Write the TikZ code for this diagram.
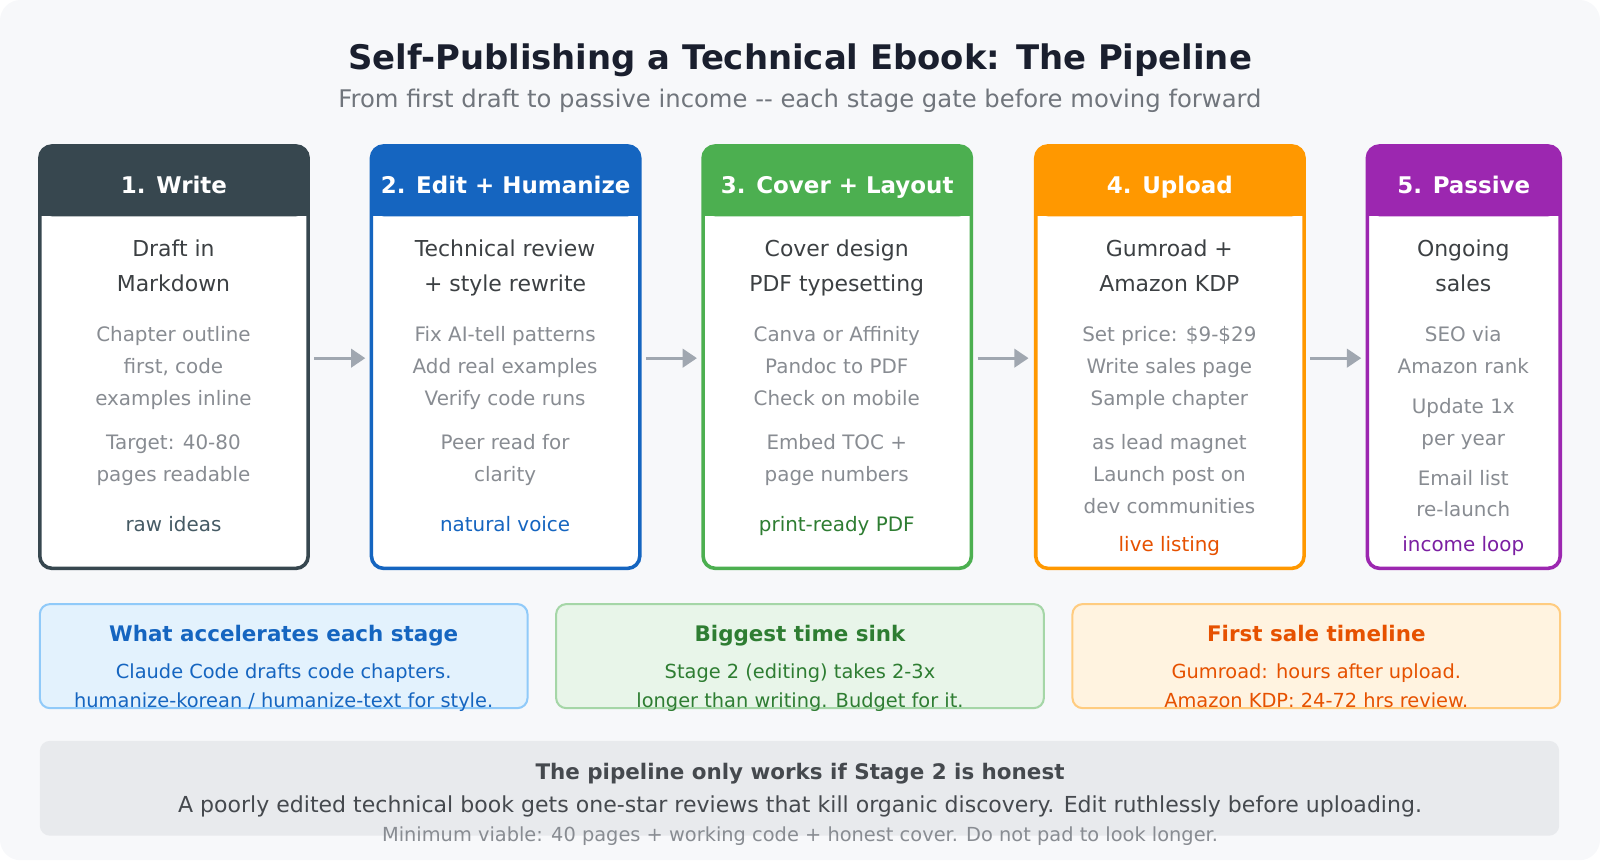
\documentclass[tikz,border=0pt]{standalone}
\usepackage{fontspec}
\setmainfont{DejaVu Sans}
\usetikzlibrary{arrows.meta}
\definecolor{bg}{HTML}{F7F8FA}
\definecolor{cA}{HTML}{37474F}\definecolor{cB}{HTML}{1565C0}\definecolor{cC}{HTML}{4CAF50}
\definecolor{cD}{HTML}{FF9800}\definecolor{cE}{HTML}{9C27B0}
\definecolor{lA}{HTML}{455A64}\definecolor{lB}{HTML}{1565C0}\definecolor{lC}{HTML}{2E7D32}
\definecolor{lD}{HTML}{E65100}\definecolor{lE}{HTML}{7B1FA2}
\definecolor{txt}{HTML}{3C4043}\definecolor{det}{HTML}{888C92}\definecolor{arr}{HTML}{A0A7B0}
\definecolor{ttl}{HTML}{1A1F2E}\definecolor{subc}{HTML}{70757C}
\definecolor{fB}{HTML}{E3F2FD}\definecolor{dB}{HTML}{90CAF9}
\definecolor{fC}{HTML}{E8F5E9}\definecolor{dC}{HTML}{A5D6A7}
\definecolor{fD}{HTML}{FFF3E0}\definecolor{dD}{HTML}{FFCC80}
\definecolor{foot}{HTML}{E8EAED}\definecolor{ftx}{HTML}{45494E}
\begin{document}
\begin{tikzpicture}[x=1pt,y=-1pt,
 every node/.style={text height=0.75em,text depth=0.22em,inner sep=0pt,yshift=-6pt},
 main/.style={font=\fontsize{21.5}{26}\selectfont,text=txt},
 det/.style={font=\fontsize{19.5}{24}\selectfont,text=det},
 hd/.style={font=\fontsize{22.5}{27}\selectfont\bfseries,text=white},
 lab/.style={font=\fontsize{19.5}{24}\selectfont},
 arrw/.style={draw=arr,line width=3pt,-{Triangle[length=14pt,width=18pt]}}]
\fill[bg,rounded corners=20pt] (0,0) rectangle (1568,843);
\node[font=\fontsize{33.2}{38}\selectfont\bfseries,text=ttl] (title) at (784,59) {Self-Publishing a Technical Ebook: The Pipeline};
\node[font=\fontsize{23.8}{28}\selectfont,text=subc] (sub) at (784,97) {From first draft to passive income {-}{-} each stage gate before moving forward};
% stage boxes
\def\stage#1#2#3#4#5{%
 \fill[white,rounded corners=12pt] (#1,143) rectangle (#2,557);
 \fill[#3,rounded corners=12pt] (#1,143) rectangle (#2,212);
 \fill[#3] (#1,190) rectangle (#2,212);
 \draw[#3,line width=3.5pt,rounded corners=12pt] (#1,143) rectangle (#2,557);
 \node[hd] (#4) at ({(#1+#2)/2},181) {#5};}
\stage{39}{302}{cA}{h1}{1. Write}
\stage{364}{627}{cB}{h2}{2. Edit + Humanize}
\stage{689}{952}{cC}{h3}{3. Cover + Layout}
\stage{1015}{1278}{cD}{h4}{4. Upload}
\stage{1340}{1529}{cE}{h5}{5. Passive}
% col1
\node[main] (a1) at (170,243) {Draft in}; \node[main] (a2) at (170,277) {Markdown};
\node[det] (a3) at (170,326) {Chapter outline}; \node[det] (a4) at (170,357) {first, code};
\node[det] (a5) at (170,389) {examples inline}; \node[det] (a6) at (170,432) {Target: 40-80};
\node[det] (a7) at (170,463) {pages readable}; \node[lab,text=lA] (a8) at (170,512) {raw ideas};
% col2
\node[main] (b1) at (495,243) {Technical review}; \node[main] (b2) at (495,277) {+ style rewrite};
\node[det] (b3) at (495,326) {Fix AI-tell patterns}; \node[det] (b4) at (495,357) {Add real examples};
\node[det] (b5) at (495,389) {Verify code runs}; \node[det] (b6) at (495,432) {Peer read for};
\node[det] (b7) at (495,463) {clarity}; \node[lab,text=lB] (b8) at (495,512) {natural voice};
% col3
\node[main] (c1) at (820,243) {Cover design}; \node[main] (c2) at (820,277) {PDF typesetting};
\node[det] (c3) at (820,326) {Canva or Affinity}; \node[det] (c4) at (820,357) {Pandoc to PDF};
\node[det] (c5) at (820,389) {Check on mobile}; \node[det] (c6) at (820,432) {Embed TOC +};
\node[det] (c7) at (820,463) {page numbers}; \node[lab,text=lC] (c8) at (820,512) {print-ready PDF};
% col4
\node[main] (d1) at (1146,243) {Gumroad +}; \node[main] (d2) at (1146,277) {Amazon KDP};
\node[det] (d3) at (1146,326) {Set price: \$9-\$29}; \node[det] (d4) at (1146,357) {Write sales page};
\node[det] (d5) at (1146,389) {Sample chapter}; \node[det] (d6) at (1146,432) {as lead magnet};
\node[det] (d7) at (1146,463) {Launch post on}; \node[det] (d7b) at (1146,495) {dev communities};
\node[lab,text=lD] (d8) at (1146,532) {live listing};
% col5
\node[main] (e1) at (1434,243) {Ongoing}; \node[main] (e2) at (1434,277) {sales};
\node[det] (e3) at (1434,326) {SEO via}; \node[det] (e4) at (1434,357) {Amazon rank};
\node[det] (e5) at (1434,397) {Update 1x}; \node[det] (e6) at (1434,428) {per year};
\node[det] (e7) at (1434,467) {Email list}; \node[det] (e7b) at (1434,498) {re-launch};
\node[lab,text=lE] (e8) at (1434,532) {income loop};
% arrows (coordinates also get the -6pt node shift, so place at 345 to land at 351)
\coordinate (p1) at (308,345); \coordinate (q1) at (358,345);
\coordinate (p2) at (633,345); \coordinate (q2) at (683,345);
\coordinate (p3) at (958,345); \coordinate (q3) at (1008,345);
\coordinate (p4) at (1284,345); \coordinate (q4) at (1334,345);
\foreach \i in {1,...,4} \draw[arrw] (p\i) -- (q\i);
% info boxes
\def\info#1#2#3#4#5#6#7#8{%
 \draw[fill=#3,draw=#4,line width=2pt,rounded corners=10pt] (#1,592) rectangle (#2,694);
 \node[font=\fontsize{21}{25}\selectfont\bfseries,text=#5] at ({(#1+#2)/2},620) {#6};
 \node[font=\fontsize{19}{23}\selectfont,text=#5] at ({(#1+#2)/2},656) {#7};
 \node[font=\fontsize{19}{23}\selectfont,text=#5] at ({(#1+#2)/2},685) {#8};}
\info{39}{517}{fB}{dB}{lB}{What accelerates each stage}{Claude Code drafts code chapters.}{humanize-korean / humanize-text for style.}
\info{545}{1023}{fC}{dC}{lC}{Biggest time sink}{Stage 2 (editing) takes 2-3x}{longer than writing. Budget for it.}
\info{1051}{1529}{fD}{dD}{lD}{First sale timeline}{Gumroad: hours after upload.}{Amazon KDP: 24-72 hrs review.}
% footer
\fill[foot,rounded corners=10pt] (39,726) rectangle (1528,819);
\node[font=\fontsize{21}{25}\selectfont\bfseries,text=ftx] (f1) at (784,755) {The pipeline only works if Stage 2 is honest};
\node[font=\fontsize{21.6}{25}\selectfont,text=ftx] (f2) at (784,788) {A poorly edited technical book gets one-star reviews that kill organic discovery. Edit ruthlessly before uploading.};
\node[font=\fontsize{19}{22}\selectfont,text=det] (f3) at (784,816) {Minimum viable: 40 pages + working code + honest cover. Do not pad to look longer.};
\pgfresetboundingbox
\useasboundingbox (0,0) rectangle (1568,843);
\end{tikzpicture}
\end{document}
